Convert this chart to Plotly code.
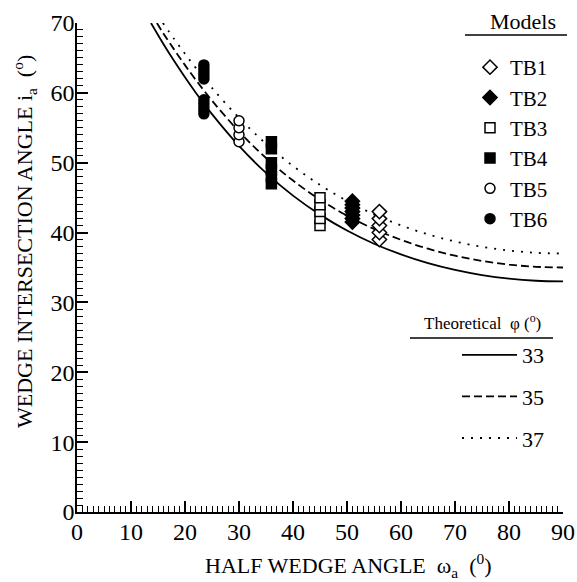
import plotly.graph_objects as go

# ---------------- data ----------------
# measured wedge intersection angles (deg) for each model
tb1_omega = 56
tb1_ia = [39, 40, 41, 42, 43]
tb2_omega = 51
tb2_ia = [41.5, 42, 42.5, 43, 43.5, 44, 44.5]
tb3_omega = 45
tb3_ia = [41, 42, 43, 44, 45]
tb4_omega = 36
tb4_ia = [47, 48, 49, 50, 52, 53]
tb5_omega = 30
tb5_ia = [53, 54, 55, 56]
tb6_omega = 23.5
tb6_ia = [57, 57.5, 58, 58.5, 59, 62, 62.5, 63, 63.5, 64]

# theoretical curves
phi33_omega = [13.7, 16, 18, 20, 22, 25, 30, 35, 40, 45, 50, 55, 60, 65, 70, 75, 80, 85, 90]
phi33_ia = [70.0, 67.0, 64.55, 62.22, 60.02, 56.95, 52.41, 48.55, 45.29, 42.57, 40.29,
            38.40, 36.87, 35.62, 34.65, 33.91, 33.40, 33.10, 33.0]
phi35_omega = [14.8, 16, 18, 20, 22, 25, 30, 35, 40, 45, 50, 55, 60, 65, 70, 75, 80, 85, 90]
phi35_ia = [70.0, 68.5, 66.19, 63.97, 61.85, 58.89, 54.47, 50.67, 47.45, 44.72, 42.43,
            40.52, 38.96, 37.69, 36.69, 35.94, 35.42, 35.10, 35.0]
phi37_omega = [15.9, 18, 20, 22, 25, 30, 35, 40, 45, 50, 55, 60, 65, 70, 75, 80, 85, 90]
phi37_ia = [70.0, 67.70, 65.59, 63.57, 60.71, 56.43, 52.72, 49.53, 46.82, 44.53,
            42.61, 41.03, 39.74, 38.73, 37.96, 37.43, 37.10, 37.0]

x_ticks = [0, 10, 20, 30, 40, 50, 60, 70, 80, 90]
y_ticks = [0, 10, 20, 30, 40, 50, 60, 70]

# ---------------- figure ----------------
FONT = "Liberation Serif"
fig = go.Figure()

curves = [
    ("33", phi33_omega, phi33_ia, "solid"),
    ("35", phi35_omega, phi35_ia, "8px,4px"),
    ("37", phi37_omega, phi37_ia, "2px,7px"),
]
for name, xs, ys, dash in curves:
    fig.add_trace(go.Scatter(
        x=xs, y=ys, mode="lines", name=name,
        line=dict(color="black", width=1.8, dash=dash, shape="spline"),
        legend="legend2", legendgroup=name,
    ))

models = [
    ("TB1", tb1_omega, tb1_ia, "diamond", "white", 11),
    ("TB2", tb2_omega, tb2_ia, "diamond", "black", 11),
    ("TB3", tb3_omega, tb3_ia, "square", "white", 10),
    ("TB4", tb4_omega, tb4_ia, "square", "black", 10),
    ("TB5", tb5_omega, tb5_ia, "circle", "white", 10),
    ("TB6", tb6_omega, tb6_ia, "circle", "black", 10),
]
for name, om, ias, sym, fill, size in models:
    fig.add_trace(go.Scatter(
        x=[om] * len(ias), y=ias, mode="markers", name=name,
        marker=dict(symbol=sym, color=fill, size=size,
                    line=dict(color="black", width=1.5)),
        legend="legend", legendgroup=name,
    ))

L, R, T, B = 77, 14, 23, 70
W, H = 577, 582
pw, ph = W - L - R, H - T - B


def px(x):
    return (x - L) / pw


def py(y):
    return (H - B - y) / ph


axis_common = dict(
    showgrid=False, zeroline=False, showline=True, linecolor="black", linewidth=1.5,
    ticks="inside", ticklen=11, tickwidth=1.5, tickcolor="black",
    tickfont=dict(family=FONT, size=24, color="black"),
    minor=dict(dtick=1, ticks="inside", ticklen=6, tickwidth=1, tickcolor="black"),
    mirror=False, automargin=False,
)

fig.update_layout(
    width=W, height=H,
    margin=dict(l=L, r=R, t=T, b=B, autoexpand=False),
    paper_bgcolor="white", plot_bgcolor="white",
    font=dict(family=FONT, color="black"),
    xaxis=dict(range=[0, 90], tickvals=x_ticks, ticklabelstandoff=-3, **axis_common),
    yaxis=dict(range=[0, 70], tickvals=y_ticks, ticklabelstandoff=-4, **axis_common),
    legend=dict(
        x=px(470), y=py(47), xanchor="left", yanchor="top",
        font=dict(family=FONT, size=21, color="black"),
        bgcolor="rgba(0,0,0,0)", tracegroupgap=0, itemsizing="trace",
    ),
    legend2=dict(
        x=px(457), y=py(334), xanchor="left", yanchor="top",
        font=dict(family=FONT, size=22, color="black"),
        bgcolor="rgba(0,0,0,0)", tracegroupgap=10, itemwidth=55,
    ),
    showlegend=True,
)

annotations = [
    dict(text="HALF WEDGE ANGLE  ω<sub>a</sub>  (<sup>0</sup>)", x=px(348), y=py(565),
         font=dict(size=22)),
    dict(text="WEDGE INTERSECTION ANGLE i<sub>a</sub>  (<sup>o</sup>)", x=px(25), y=py(242),
         textangle=-90, font=dict(size=22)),
    dict(text="Models", x=px(488), y=py(21), xanchor="left", font=dict(size=22)),
    dict(text="Theoretical  φ (<sup>o</sup>)", x=px(422), y=py(322), xanchor="left",
         font=dict(size=17)),
]
for a in annotations:
    a.setdefault("xanchor", "center")
    fig.add_annotation(xref="paper", yref="paper", showarrow=False, yanchor="middle",
                       **a)

fig.add_shape(type="line", xref="paper", yref="paper", x0=px(465), x1=px(567),
              y0=py(35), y1=py(35), line=dict(color="black", width=1.5))
fig.add_shape(type="line", xref="paper", yref="paper", x0=px(410), x1=px(553),
              y0=py(338), y1=py(338), line=dict(color="black", width=1.5))

fig.write_html(
    "out.html",
    config={"displayModeBar": False},
    post_script="document.body.style.margin='0';document.body.style.padding='0';",
)
